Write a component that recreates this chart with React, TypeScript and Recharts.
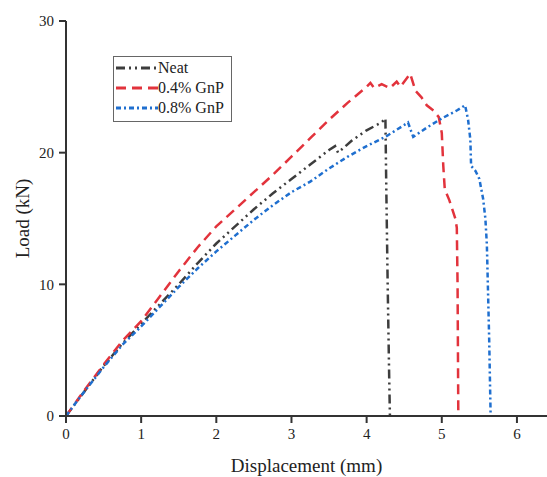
import React from 'react';
import { LineChart, Line, XAxis, YAxis } from 'recharts';

// displacement (mm) / load (kN)
const neatX = [0, 0.25, 0.5, 0.75, 1.0, 1.25, 1.5, 1.75, 2.0, 2.25, 2.5, 2.75, 3.0, 3.25, 3.5, 3.58, 3.62, 3.8, 4.0, 4.2, 4.25, 4.26, 4.28, 4.3, 4.31];
const neatY = [0, 1.9, 3.8, 5.5, 7.0, 8.5, 10.0, 11.6, 13.1, 14.4, 15.7, 16.9, 18.0, 19.1, 20.2, 20.5, 20.0, 20.9, 21.7, 22.3, 22.6, 18.0, 10.0, 3.0, 0];

const gnp04X = [0, 0.25, 0.5, 0.75, 1.0, 1.25, 1.5, 1.75, 2.0, 2.25, 2.5, 2.75, 3.0, 3.25, 3.5, 3.75, 4.0, 4.05, 4.1, 4.2, 4.31, 4.4, 4.45, 4.58, 4.65, 4.73, 4.8, 4.89, 4.96, 5.0, 5.02, 5.04, 5.1, 5.18, 5.2, 5.21, 5.22];
const gnp04Y = [0, 2.0, 3.9, 5.7, 7.2, 9.1, 11.0, 12.8, 14.4, 15.7, 17.0, 18.3, 19.7, 21.1, 22.5, 23.8, 25.0, 25.3, 24.9, 25.2, 24.9, 25.4, 25.0, 26.0, 24.7, 24.2, 23.6, 23.2, 22.7, 21.5, 19.0, 17.2, 16.4, 15.0, 14.3, 10.0, 0];

const gnp08X = [0, 0.25, 0.5, 0.75, 1.0, 1.25, 1.5, 1.75, 2.0, 2.25, 2.5, 2.75, 3.0, 3.25, 3.5, 3.75, 4.0, 4.25, 4.5, 4.55, 4.62, 4.8, 5.0, 5.2, 5.31, 5.35, 5.38, 5.39, 5.45, 5.5, 5.55, 5.58, 5.6, 5.63, 5.65];
const gnp08Y = [0, 1.9, 3.7, 5.4, 6.8, 8.3, 9.8, 11.2, 12.5, 13.7, 14.9, 16.0, 17.0, 17.8, 18.8, 19.7, 20.5, 21.2, 22.1, 22.3, 21.2, 21.9, 22.6, 23.2, 23.6, 22.5, 21.0, 19.0, 18.6, 18.0, 16.5, 15.0, 13.0, 6.0, 0];

const xTicks = [0, 1, 2, 3, 4, 5, 6];
const yTicks = [0, 10, 20, 30];

const series = [
    { name: 'Neat', xs: neatX, ys: neatY, color: '#3d3d3d', dash: '9 4 2 4 2 4' },
    { name: '0.4% GnP', xs: gnp04X, ys: gnp04Y, color: '#e2333c', dash: '10 6' },
    { name: '0.8% GnP', xs: gnp08X, ys: gnp08Y, color: '#1f6fcf', dash: '5 3 2 3' },
];

const font = 'Liberation Serif';

const LegendBox = () => (
    <div style={{
        position: 'absolute', left: 113, top: 56, width: 115, height: 63,
        border: '1px solid #666', background: '#fff', padding: '1px 0 0 2px',
        fontFamily: font, fontSize: 16, color: '#222', lineHeight: '20px',
    }}>
        {series.map(s => (
            <div key={s.name} style={{ display: 'flex', alignItems: 'center' }}>
                <svg width={42} height={10}>
                    <line x1={0} y1={5} x2={42} y2={5} stroke={s.color} strokeWidth={3} strokeDasharray={s.dash} />
                </svg>
                <span>{s.name}</span>
            </div>
        ))}
    </div>
);

const App: React.FC = () => {
    const tickStyle = { fontSize: 15, fill: '#222', fontFamily: font };
    return (
        <div style={{ position: 'absolute', left: 0, top: 0, width: 547, height: 477, background: '#fff', fontFamily: font }}>
            <LineChart width={547} height={477} margin={{ top: 21, right: 0, left: 0, bottom: 0 }} style={{ fontFamily: font }}>
                <XAxis
                    type="number"
                    dataKey="x"
                    domain={[0, 6.4]}
                    ticks={xTicks}
                    allowDataOverflow
                    height={61}
                    stroke="#333"
                    strokeWidth={2}
                    tickSize={7}
                    tickMargin={5}
                    tick={tickStyle}
                    label={{ value: 'Displacement (mm)', position: 'insideBottom', offset: 5, style: { fontSize: 19, fill: '#222', fontFamily: font } }}
                />
                <YAxis
                    type="number"
                    dataKey="y"
                    domain={[0, 30]}
                    ticks={yTicks}
                    width={66}
                    stroke="#333"
                    strokeWidth={2}
                    tickSize={7}
                    tickMargin={5}
                    tick={tickStyle}
                    label={{ value: 'Load (kN)', angle: -90, position: 'insideLeft', offset: 22, style: { fontSize: 19, fill: '#222', textAnchor: 'middle', fontFamily: font } }}
                />
                {series.map(s => (
                    <Line
                        key={s.name}
                        name={s.name}
                        data={s.xs.map((x, i) => ({ x, y: s.ys[i] }))}
                        dataKey="y"
                        type="linear"
                        stroke={s.color}
                        strokeWidth={2.5}
                        strokeDasharray={s.dash}
                        dot={false}
                        isAnimationActive={false}
                    />
                ))}
            </LineChart>
            <LegendBox />
        </div>
    );
};

export default App;
